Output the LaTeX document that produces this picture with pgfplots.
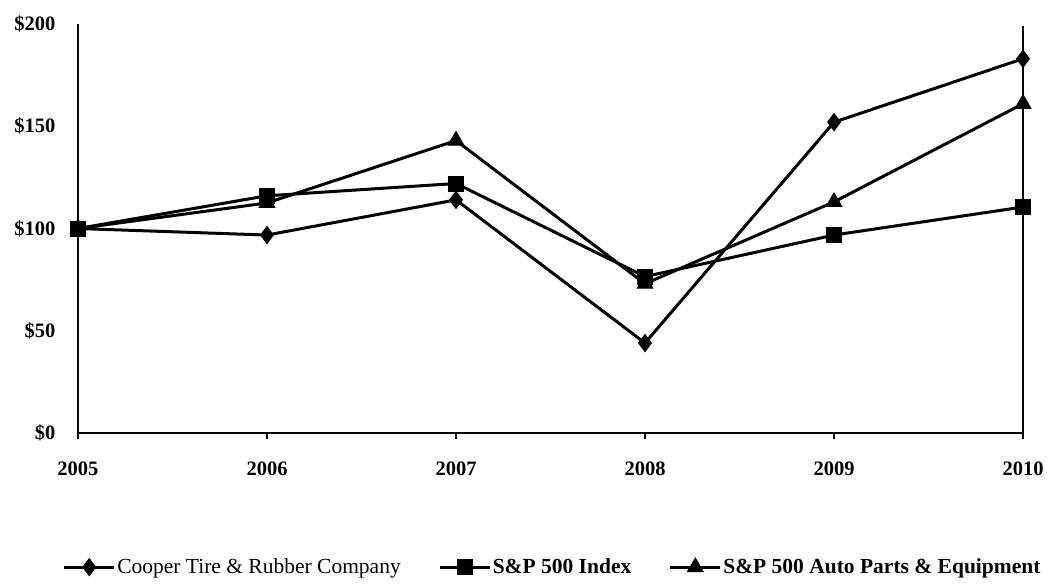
\documentclass[border=0pt]{standalone}
\usepackage{fontspec}
\setmainfont{Liberation Serif}
\usepackage{pgfplots}
\pgfplotsset{compat=1.18}
\begin{document}
\begin{tikzpicture}
\path[use as bounding box] (-78bp,-152bp) rectangle (971bp,433bp);
\begin{axis}[
  anchor=south west, at={(0,0)},
  scale only axis, width=945bp, height=409bp,
  xmin=2005, xmax=2010, ymin=0, ymax=200,
  axis x line*=bottom, axis y line*=left,
  axis line style={line width=2.8bp, -},
  xtick={2005,2006,2007,2008,2009,2010},
  xticklabels={2005,2006,2007,2008,2009,2010},
  ytick={0,50,100,150,200},
  yticklabels={\$0,\$50,\$100,\$150,\$200},
  xtick style={line width=1.2bp, black},
  major tick length=6bp,
  tick align=outside,
  ytick style={draw=none},
  xticklabel style={font=\fontsize{20.5bp}{24bp}\selectfont\bfseries, yshift=-19bp},
  yticklabel style={font=\fontsize{20.5bp}{24bp}\selectfont\bfseries, xshift=-13bp},
  clip=false,
  legend columns=3,
  legend cell align=left,
  legend style={draw=none, at={(0.502,-0.328)}, anchor=center,
    font=\fontsize{21.5bp}{25bp}\selectfont,
    nodes={inner sep=1.5bp},
    /tikz/every even column/.append style={column sep=36bp}},
  legend image code/.code={
    \draw[#1, line width=3bp] (0bp,0bp) -- (50bp,0bp);
    \draw[#1, line width=3bp, mark repeat=1] plot coordinates {(25bp,0bp)};
  },
  every axis plot/.append style={line width=3bp, black, mark options={solid, fill=black, line width=1bp}},
]
\addplot[mark=diamond*, mark size=8.5bp] coordinates {
 (2005,100) (2006,96.8) (2007,114) (2008,44) (2009,152) (2010,183)};
\addplot[mark=square*, mark size=7.5bp] coordinates {
 (2005,100) (2006,116) (2007,122) (2008,76.5) (2009,96.8) (2010,110.5)};
\addplot[mark=triangle*, mark size=9bp] coordinates {
 (2005,100) (2006,112.5) (2007,143) (2008,73) (2009,113) (2010,161)};
\legend{Cooper Tire \& Rubber Company, \textbf{S\&P 500 Index}, \textbf{S\&P 500 Auto Parts \& Equipment}}
\draw[line width=1.2bp] (axis cs:2010,0) -- (axis cs:2010,199);
\end{axis}
\end{tikzpicture}
\end{document}
